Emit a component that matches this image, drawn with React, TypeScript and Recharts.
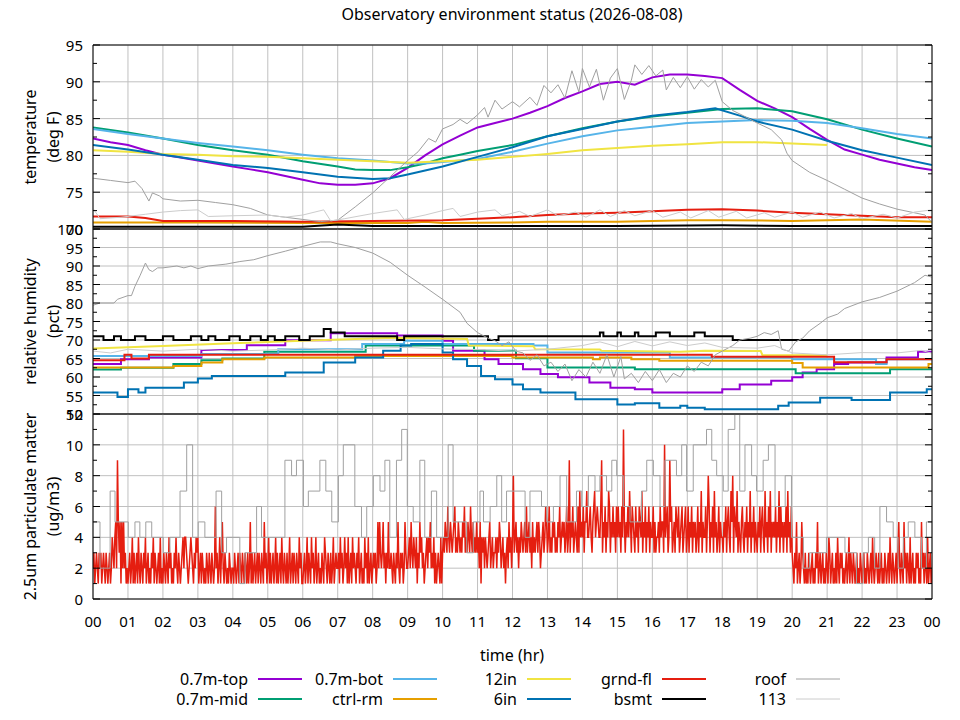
import React from 'react'
import { LineChart, Line, XAxis, YAxis, CartesianGrid } from 'recharts'

type Pt = [number, number]

const FONT = "'Noto Sans', sans-serif"
const LEFT = 93
const RIGHT = 932

const HOURS = Array.from({ length: 25 }, (_, i) => i)
const HALF_HOURS = Array.from({ length: 49 }, (_, i) => i / 2)

const SENSORS = ['0.7m-top', '0.7m-mid', '0.7m-bot', 'ctrl-rm', '12in', '6in', 'grnd-fl', 'bsmt', 'roof', '113']
const COLORS: Record<string, string> = {
  '0.7m-top': '#9400d3',
  '0.7m-mid': '#009e73',
  '0.7m-bot': '#56b4e9',
  'ctrl-rm': '#e69f00',
  '12in': '#f0e442',
  '6in': '#0072b2',
  'grnd-fl': '#e51e10',
  bsmt: '#000000',
  roof: '#a0a0a0',
  '113': '#cccccc',
}

// temperature, deg F  [hour, value]
const tempTop: Pt[] = [[0,82.3],[0.5,81.8],[1,81.4],[1.5,80.7],[2,80.1],[2.5,79.7],[3,79.3],[3.5,78.9],[4,78.5],[4.5,78.1],[5,77.7],[5.5,77.2],[6,76.7],[6.5,76.2],[7,76.0],[7.5,76.0],[8,76.2],[8.5,76.9],[9,78.3],[9.5,80.0],[10,81.5],[10.5,82.7],[11,83.8],[11.5,84.4],[12,85.0],[12.5,85.8],[13,86.7],[13.5,87.8],[14,88.7],[14.5,89.7],[15,90.0],[15.5,89.6],[16,90.6],[16.5,91.0],[17,91.0],[17.5,90.8],[18,90.5],[18.5,88.9],[19,87.4],[19.5,86.4],[20,85.2],[20.5,83.6],[21,82.1],[21.5,80.8],[22,80.1],[22.5,79.4],[23,78.9],[23.5,78.4],[24,78.0]]
const tempMid: Pt[] = [[0,83.8],[1,83.1],[2,82.3],[3,81.4],[4,80.7],[5,80.1],[6,79.2],[7,78.5],[7.5,78.1],[8,78.0],[8.5,78.0],[9,78.4],[9.5,78.9],[10,79.6],[10.5,80.1],[11,80.6],[12,81.4],[13,82.6],[14,83.7],[15,84.6],[16,85.3],[17,85.8],[18,86.3],[19,86.4],[20,86.0],[21,84.9],[22,83.5],[23,82.3],[24,81.2]]
const tempBot: Pt[] = [[0,83.6],[1,82.9],[2,82.3],[3,81.7],[4,81.2],[5,80.7],[6,80.1],[7,79.6],[8,79.3],[9,78.9],[9.5,78.9],[10,79.1],[11,79.5],[12,80.5],[13,81.6],[14,82.6],[15,83.4],[16,83.9],[17,84.4],[18,84.6],[19,84.8],[20,84.7],[21,84.4],[22,83.7],[23,82.9],[24,82.3]]
const tempCtrl: Pt[] = [[0,70.9],[3,70.9],[6,70.8],[9,70.8],[9.5,71.0],[10,70.8],[12,70.9],[13,71.0],[15,71.0],[17,71.2],[18,71.2],[20,71.1],[22,71.3],[24,71.0]]
const temp12in: Pt[] = [[0,80.7],[1,80.5],[2,80.2],[3,80.1],[4,79.9],[5,79.8],[6,79.6],[7,79.4],[8,79.2],[9,79.0],[10,79.2],[11,79.4],[12,79.8],[13,80.2],[14,80.7],[15,81.0],[16,81.3],[17,81.5],[18,81.8],[19,81.8],[20,81.6],[21,81.4]]
const temp6in: Pt[] = [[0,81.4],[1,80.8],[2,80.1],[3,79.4],[4,78.7],[5,78.3],[6,77.7],[7,77.1],[8,76.8],[8.5,76.9],[9,77.4],[10,78.5],[11,79.8],[12,81.1],[13,82.6],[14,83.6],[15,84.6],[16,85.4],[17,85.9],[17.8,86.4],[18.5,85.4],[19,84.6],[20,83.5],[21,82.0],[22,80.7],[23,79.7],[24,78.7]]
const tempGrnd: Pt[] = [[0,71.7],[1,71.7],[1.5,71.5],[2,71.1],[4,71.1],[6,71.0],[8,71.1],[10,71.2],[11,71.4],[12,71.6],[13,71.9],[14,72.1],[15,72.2],[16,72.4],[17,72.6],[18,72.7],[19,72.5],[20,72.2],[21,72.0],[22,71.8],[23,71.6],[24,71.6]]
const tempBsmt: Pt[] = [[0,70.3],[6,70.3],[7,70.6],[7.5,70.5],[8,70.4],[10,70.4],[12,70.4],[15,70.4],[18,70.5],[20,70.4],[24,70.4]]
const tempRoof: Pt[] = [[0,76.9],[0.5,76.6],[1,76.3],[1.2,76.5],[1.4,75.5],[1.6,73.8],[1.7,74.9],[1.9,74.5],[2,74.1],[2.5,73.8],[3,73.9],[3.5,73.6],[4,73.3],[4.5,72.8],[5,71.9],[5.5,71.6],[6,71.3],[6.5,71.0],[7,71.2],[7.5,73.0],[8,74.9],[8.5,77.1],[9,79.3],[9.3,80.5],[9.6,82.3],[9.8,81.8],[10,83.6],[10.3,84.2],[10.5,84.9],[10.7,84.3],[11,85.5],[11.2,86.5],[11.3,85.2],[11.5,87.5],[11.7,86.3],[12,87.3],[12.2,86.6],[12.5,87.9],[12.7,86.8],[12.9,89.5],[13.1,88.5],[13.3,89.6],[13.5,87.8],[13.7,91.5],[13.9,88.6],[14.0,91.8],[14.2,89.3],[14.4,91.7],[14.6,87.5],[14.8,90.5],[15.0,91.8],[15.2,87.6],[15.4,90.2],[15.5,92.3],[15.7,91.0],[15.9,92.2],[16.1,90.8],[16.3,91.6],[16.4,88.9],[16.6,90.6],[16.8,89.2],[17.0,90.7],[17.2,89.0],[17.4,90.3],[17.6,89.3],[17.8,90.2],[18.0,87.3],[18.3,86.1],[18.6,85.4],[19,84.4],[19.4,83.5],[19.7,82.1],[19.85,80.3],[20,79.3],[20.5,77.7],[21,76.6],[21.5,75.4],[22,74.2],[22.5,73.4],[23,72.7],[23.5,72.2],[23.8,71.9],[24,70.9]]
const temp113: Pt[] = [[0,72.8],[0.2,71.4],[0.8,71.6],[1.5,72],[2,72.3],[2.5,72.5],[3,72.6],[3.3,71.7],[4,71.8],[5,71.9],[5.5,71.6],[6,71.9],[6.6,72.6],[6.8,71.1],[7.2,71.4],[8,72.1],[8.7,72.6],[8.9,71.3],[9.5,71.9],[10,72.5],[10.3,72.8],[10.5,71.7],[11,72.3],[11.5,72.6],[11.7,71.8],[12.2,72.4],[12.5,71.7],[13,72.6],[13.3,71.8],[13.8,72.3],[14.1,71.6],[14.5,72.6],[14.8,71.7],[15.2,72.5],[15.5,71.8],[16,72.5],[16.3,71.6],[16.8,72.3],[17.1,71.5],[17.6,72.5],[17.9,71.6],[18.4,72.4],[18.7,71.5],[19.2,72.2],[19.5,71.6],[20,72.3],[20.3,71.6],[20.8,72.3],[21.2,71.5],[21.7,72.1],[22,71.4],[22.6,72],[23,71.5],[23.5,72.3],[24,72.6]]

// relative humidity, pct  [hour, value]
const rhTop: Pt[] = [[0,63.5],[0.8,64.8],[1.6,65.3],[3.1,67.3],[4.4,68.6],[5.5,69.9],[6.8,71.8],[8.7,71.2],[10.0,69.8],[10.3,67.1],[11.2,64.8],[11.6,63.5],[12.3,62.1],[12.8,60.8],[13.3,59.9],[14.2,58.5],[14.8,57.1],[15.5,56.7],[16.0,55.8],[18.0,56.7],[18.5,58],[19.4,59],[20.0,59.9],[20.3,61.2],[20.7,62.1],[21.2,63.5],[21.6,63.9],[22.7,65.3],[23.6,66.8],[24,66.8]]
const rhMid: Pt[] = [[0,62],[0.8,62.5],[2.3,63.5],[3.1,64.5],[3.7,65],[4.9,66.8],[7.8,68.5],[10.9,67.1],[12.1,65.1],[13.0,62.6],[15.5,62.1],[20.1,61],[22.8,62.1],[24,62.1]]
const rhBot: Pt[] = [[0,65.7],[3.1,66.2],[5.3,67.5],[7.7,68.9],[8.9,69.8],[10.0,68.9],[12.6,68.5],[13.0,66.6],[16.5,65.3],[20.0,64.8],[22.4,63.5],[22.7,64.8],[24,64.8]]
const rhCtrl: Pt[] = [[0,62.6],[2.3,63],[3.1,63.9],[3.7,64.8],[4.9,65.3],[7.5,65.7],[12.0,65.3],[14.3,64.8],[14.5,65.3],[15.4,64.8],[16.2,64.4],[20.0,63.8],[20.3,62.6],[23.9,63.5],[24,63.5]]
const rh12in: Pt[] = [[0,67.7],[2,68.4],[4,69.1],[6,69.8],[8.6,70.6],[10.7,70.3],[10.75,68.5],[12.6,68.3],[12.65,67.5],[14.5,67.4],[14.55,67.1],[16.8,66.8],[17.5,67.1],[19.1,67],[19.15,65.9],[21,65.9]]
const rh6in: Pt[] = [[0,55.8],[0.7,54.6],[1.0,56.7],[1.3,55.8],[1.5,57.1],[2.6,58.5],[3.0,59.6],[3.4,60.3],[5.5,61.2],[6.6,63.9],[7.5,65.3],[8.3,67.1],[8.8,68.5],[9.1,68.9],[10.0,66.6],[10.3,64.8],[10.7,63],[11.1,60.3],[11.5,59.4],[12.0,58],[12.3,56.7],[12.8,55.8],[13.8,54],[15.0,52.6],[15.5,52.9],[16.2,51.7],[16.8,52.2],[17.0,51.7],[17.5,51.3],[19.6,52.2],[19.9,53.1],[20.8,54.4],[21.7,53.8],[22.8,55.8],[23.85,56.7],[24,56.7]]
const rhGrnd: Pt[] = [[0,64.5],[0.9,66],[1.1,65],[1.6,66],[16.7,66],[17.7,65.5],[21.2,64],[22.7,64.8],[24,64.8]]
const rhBsmt: Pt[] = [[0,71],[0.3,70],[0.6,71],[0.8,70],[1.2,71],[1.5,70],[2.0,71],[2.3,70],[2.8,71],[3.1,70],[3.3,71],[3.5,70],[3.9,71],[4.2,70],[4.5,71],[4.8,70],[5.0,71],[5.2,70],[5.5,71],[5.9,70],[6.2,71],[6.6,73],[6.8,72],[7.2,71],[8.7,70],[8.9,71],[11.3,70],[11.6,71],[14.5,72],[14.6,71],[15.0,72],[15.1,71],[15.5,72],[15.6,71],[16.1,72],[16.5,71],[17.2,72],[17.5,71],[18.3,70],[24,70]]
const rhRoof: Pt[] = [[0,79.4],[0.2,80],[0.6,80],[0.7,81],[1,82],[1.1,82],[1.2,84.5],[1.35,87.5],[1.5,90.8],[1.6,89],[1.7,88.5],[1.85,89.5],[2,89.5],[2.4,90],[2.6,89.5],[2.8,90],[3,89.3],[3.3,90],[3.8,90.5],[4.2,91.2],[4.6,91.7],[5,92.8],[5.5,94],[6,95.3],[6.5,96.5],[6.8,96.5],[7.0,96],[7.5,95],[8,93.5],[8.5,91],[9,87.5],[9.5,84.3],[10,81],[10.5,77.5],[10.7,74.5],[11,72],[11.3,70.5],[11.5,69.8],[11.7,68.5],[11.9,69.5],[12.1,67],[12.3,66.5],[12.5,64.5],[12.7,66],[12.9,63],[13.1,64],[13.3,61.5],[13.5,63.5],[13.7,59],[13.9,62],[14.1,60],[14.3,64],[14.5,61],[14.7,66],[14.9,60],[15.1,65.5],[15.2,59.5],[15.4,61],[15.6,58.5],[15.8,61.5],[16,59],[16.2,62],[16.4,58.5],[16.6,61],[16.8,60],[17,63],[17.2,61.5],[17.4,64],[17.6,63],[17.8,66],[18,67],[18.3,68.5],[18.5,70],[18.8,70.5],[19,71],[19.2,72],[19.4,71.5],[19.6,72.5],[19.7,67.5],[19.9,67],[20.1,69.5],[20.3,70.5],[20.5,72.5],[20.8,74.5],[21,76],[21.3,77],[21.5,78.5],[22,80.3],[22.5,81.5],[23,83.2],[23.5,85.5],[23.8,87.5],[24,87]]
const rh113: Pt[] = [[0,67],[0.5,66.5],[1,67.5],[2,67],[3,67.5],[4,67],[5,67.3],[6,67.8],[7,67.3],[8,67.8],[9,68],[10,67.6],[11,67.4],[12,67],[13,67.5],[14,68.5],[14.5,69.5],[15,68.2],[15.5,69.6],[16,68.4],[16.5,69.5],[17,68.5],[17.5,69.2],[18,68],[19,67.8],[19.5,68.5],[20,66.5],[21,66],[22,66.6],[23,66.5],[23.7,67.2],[24,66.4]]

// 2.5um particulate matter, ug/m3
// grnd-fl: one string per hour, a reading every 1.5 minutes (hex digit, a = 10, b = 11)
const pmGrndHours = [
  '2312321323123213212312432452953515252312',
  '1231241312314213213241231213241321231412',
  '1321321423121324213212342443212343213243',
  '4123132121321321321262312413521321213212',
  '2132123132132132131251312312313213215231',
  '2413123124131231421321312412313213214231',
  '1231241321423124123121321432132131241232',
  '2314231242314123142321324123121423141231',
  '2323125253235231325223213213252132312532',
  '2342532432413253423123424352324131232141',
  '3435436435434563435434354634354364353435',
  '3425143424323452342334243542342313425342',
  '4834534243543453634534253434535423453465',
  '3463435453435463454534634935463454363745',
  '4635574456435674565446935463547635464536',
  '4645364b53546475365436453654735463546354',
  '46353445364553a4563495634536546345634563',
  '4635463545346354735446358635463745346354',
  '4354635643758365473543564354635473546354',
  '3546356437453647354546354736453546374536',
  '3213251231253213121321231213251231231213',
  '2143123121314213231212312413213212312132',
  '1231213212314212321312312132123142132123',
  '1352132152313214123121323121523132141231',
]
const pmGrndEnd = 2
// roof: [hour, value] at each change
const pmRoof: Pt[] = [[0,5],[0.2,2],[0.49,7],[0.63,5],[1.01,4],[1.2,5],[1.34,4],[1.51,5],[1.68,4],[2.01,3],[2.2,4],[2.49,7],[2.68,10],[2.85,4],[3.01,5],[3.2,4],[3.52,7],[3.68,3],[3.82,4],[4.2,1],[4.35,3],[4.68,6],[4.82,4],[5.49,9],[5.68,8],[5.82,9],[6.02,6],[6.16,7],[6.49,9],[6.66,7],[6.83,5],[7.02,8],[7.16,10],[7.49,6],[7.68,4],[7.83,6],[8.02,8],[8.21,7],[8.35,9],[8.49,4],[8.68,9],[8.83,11],[8.99,6],[9.16,5],[9.35,9],[9.49,4],[9.68,7],[9.83,4],[10.16,10],[10.3,5],[10.69,3],[10.88,5],[11.07,7],[11.17,5],[11.36,6],[11.55,8],[11.69,5],[11.83,7],[12.36,4],[12.5,7],[12.83,6],[12.98,5],[13.17,6],[13.36,8],[13.55,5],[13.83,7],[13.98,6],[14.17,8],[14.36,7],[14.5,8],[14.69,7],[14.84,9],[14.98,8],[15.17,6],[15.36,5],[15.69,7],[15.84,9],[16.03,8],[16.22,6],[16.36,9],[16.69,8],[16.84,10],[16.98,7],[17.17,10],[17.55,11],[17.7,9],[17.84,8],[18.03,7],[18.17,11],[18.36,12],[18.5,7],[18.65,10],[18.84,8],[18.98,7],[19.17,9],[19.32,10],[19.51,6],[19.8,8],[19.98,4],[20.32,2],[20.5,3],[20.98,4],[21.51,3],[21.84,1],[22.03,3],[22.18,4],[22.36,2],[22.51,6],[22.7,5],[22.89,4],[23.03,2],[23.18,4],[23.32,5],[23.51,4],[23.7,2],[23.84,5],[24,5]]

const pmGrnd: Pt[] = [
  ...pmGrndHours.flatMap((s, h) => s.split('').map((c, j) => [h + j / s.length, parseInt(c, 16)] as Pt)),
  [24, pmGrndEnd],
]

type Series = { name: string; data: Pt[]; step?: boolean }

const PANELS = [
  {
    top: 45, bottom: 229, domain: [70, 95],
    major: [70, 75, 80, 85, 90, 95],
    minor: [70, 72.5, 75, 77.5, 80, 82.5, 85, 87.5, 90, 92.5, 95],
    title: ['temperature', '(deg F)'],
    series: [
      { name: '0.7m-top', data: tempTop }, { name: '0.7m-mid', data: tempMid }, { name: '0.7m-bot', data: tempBot },
      { name: 'ctrl-rm', data: tempCtrl }, { name: '12in', data: temp12in }, { name: '6in', data: temp6in },
      { name: 'grnd-fl', data: tempGrnd }, { name: 'bsmt', data: tempBsmt }, { name: 'roof', data: tempRoof },
      { name: '113', data: temp113 },
    ] as Series[],
  },
  {
    top: 229, bottom: 414, domain: [50, 100],
    major: [50, 55, 60, 65, 70, 75, 80, 85, 90, 95, 100],
    minor: [50, 52.5, 55, 57.5, 60, 62.5, 65, 67.5, 70, 72.5, 75, 77.5, 80, 82.5, 85, 87.5, 90, 92.5, 95, 97.5, 100],
    title: ['relative humidity', '(pct)'],
    series: [
      { name: '0.7m-top', data: rhTop, step: true }, { name: '0.7m-mid', data: rhMid, step: true },
      { name: '0.7m-bot', data: rhBot, step: true }, { name: 'ctrl-rm', data: rhCtrl, step: true },
      { name: '12in', data: rh12in }, { name: '6in', data: rh6in, step: true },
      { name: 'grnd-fl', data: rhGrnd, step: true }, { name: 'bsmt', data: rhBsmt, step: true },
      { name: 'roof', data: rhRoof }, { name: '113', data: rh113 },
    ] as Series[],
  },
  {
    top: 414, bottom: 599, domain: [0, 12],
    major: [0, 2, 4, 6, 8, 10, 12],
    minor: [0, 1, 2, 3, 4, 5, 6, 7, 8, 9, 10, 11, 12],
    title: ['2.5um particulate matter', '(ug/m3)'],
    series: [
      { name: 'grnd-fl', data: pmGrnd },
      { name: 'roof', data: pmRoof, step: true },
    ] as Series[],
  },
]

const txt = { fontFamily: FONT, fontSize: 16, fill: '#000' }
const tickTxt = { fontFamily: FONT, fontSize: 15, fill: '#000' }

function Panel({ p, last }: { p: (typeof PANELS)[number]; last: boolean }) {
  const xTicks = (props: any) => {
    const { x, payload } = props
    const len = payload.value % 1 === 0 ? 7 : 4
    return (
      <g>
        <line x1={x} x2={x} y1={p.top} y2={p.top + len} stroke="#000" />
        <line x1={x} x2={x} y1={p.bottom} y2={p.bottom - len} stroke="#000" />
      </g>
    )
  }
  const yTicks = (props: any) => {
    const { y, payload } = props
    const len = p.major.includes(payload.value) ? 7 : 4
    return (
      <g>
        <line x1={LEFT} x2={LEFT + len} y1={y} y2={y} stroke="#000" />
        <line x1={RIGHT} x2={RIGHT - len} y1={y} y2={y} stroke="#000" />
      </g>
    )
  }
  const hourLabel = (props: any) =>
    last ? (
      <text x={props.x} y={p.bottom + 22} textAnchor="middle" dominantBaseline="central" style={tickTxt}>
        {String(props.payload.value % 24).padStart(2, '0')}
      </text>
    ) : <g />
  const valueLabel = (props: any) => (
    <text x={LEFT - 10} y={props.y} textAnchor="end" dominantBaseline="central" style={tickTxt}>
      {props.payload.value}
    </text>
  )

  // each axis takes 1px so that it is drawn; the margins leave the plot on the panel edges
  return (
    <div style={{ position: 'absolute', left: 0, top: 0 }}>
      <LineChart width={960} height={720}
        margin={{ top: p.top - 1, bottom: 720 - p.bottom - 1, left: LEFT - 1, right: 960 - RIGHT - 1 }}>
        <CartesianGrid xAxisId="b" yAxisId="l" stroke="#c0c0c0" />
        <XAxis xAxisId="b" dataKey="t" type="number" domain={[0, 24]} ticks={HOURS} interval={0} height={1}
          tickSize={0} tickMargin={0} tickLine={false} axisLine={{ stroke: '#000' }} tick={hourLabel} allowDataOverflow />
        <XAxis xAxisId="t" orientation="top" type="number" domain={[0, 24]} ticks={HALF_HOURS} interval={0} height={1}
          tickSize={0} tickMargin={0} tickLine={false} axisLine={{ stroke: '#000' }} tick={xTicks} allowDataOverflow />
        <YAxis yAxisId="l" type="number" domain={p.domain} ticks={p.major} interval={0} width={1}
          tickSize={0} tickMargin={0} tickLine={false} axisLine={{ stroke: '#000' }} tick={valueLabel} allowDataOverflow />
        <YAxis yAxisId="r" orientation="right" type="number" domain={p.domain} ticks={p.minor} interval={0} width={1}
          tickSize={0} tickMargin={0} tickLine={false} axisLine={{ stroke: '#000' }} tick={yTicks} allowDataOverflow />
        {p.series.map((s) => (
          <Line
            key={s.name}
            xAxisId="b"
            yAxisId="l"
            data={s.data.map(([t, v]) => ({ t, v }))}
            dataKey="v"
            type={s.step ? 'stepAfter' : 'linear'}
            stroke={COLORS[s.name]}
            strokeWidth={s.name === 'roof' || s.name === '113' ? 1 : last ? 1.5 : 2}
            dot={false}
            activeDot={false}
            isAnimationActive={false}
          />
        ))}
      </LineChart>
    </div>
  )
}

const LEGEND_X = [248, 383, 517, 652, 786]
const LEGEND_Y = [679, 699]

export default function App() {
  return (
    <div style={{ position: 'absolute', left: 0, top: 0, width: 960, height: 720, background: '#fff' }}>
      {PANELS.map((p, i) => (
        <Panel key={i} p={p} last={i === PANELS.length - 1} />
      ))}
      <svg width={960} height={720} style={{ position: 'absolute', left: 0, top: 0, pointerEvents: 'none' }}>
        <text x={512} y={14} textAnchor="middle" dominantBaseline="central" style={txt}>
          Observatory environment status (2026-08-08)
        </text>
        {PANELS.map((p, i) => {
          const cy = (p.top + p.bottom) / 2
          return (
            <g key={i}>
              <text transform={`translate(30,${cy}) rotate(-90)`} textAnchor="middle" dominantBaseline="central" style={txt}>{p.title[0]}</text>
              <text transform={`translate(53,${cy}) rotate(-90)`} textAnchor="middle" dominantBaseline="central" style={txt}>{p.title[1]}</text>
            </g>
          )
        })}
        <text x={512} y={655} textAnchor="middle" dominantBaseline="central" style={txt}>time (hr)</text>
        {SENSORS.map((name, i) => {
          const x = LEGEND_X[Math.floor(i / 2)]
          const y = LEGEND_Y[i % 2]
          return (
            <g key={name}>
              <text x={x} y={y} textAnchor="end" dominantBaseline="central" style={txt}>{name}</text>
              <line x1={x + 10} x2={x + 54} y1={y} y2={y} stroke={COLORS[name]}
                strokeWidth={name === 'roof' || name === '113' ? 1 : 2} />
            </g>
          )
        })}
      </svg>
    </div>
  )
}
